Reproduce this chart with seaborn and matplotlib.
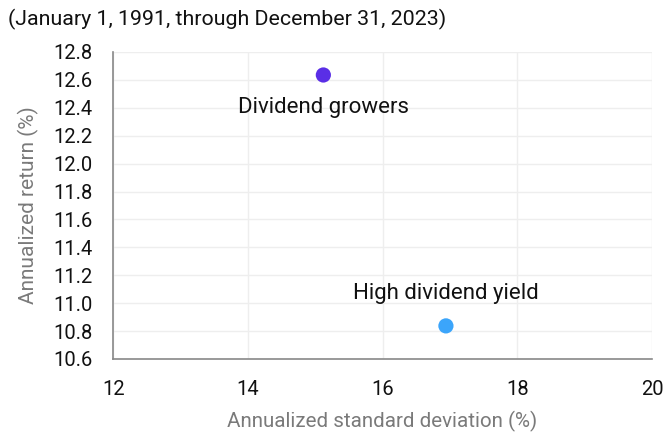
import numpy as np
import pandas as pd
import seaborn as sns
import matplotlib.pyplot as plt

# data
names = ["Dividend growers", "High dividend yield"]
std_dev = [15.12, 16.94]
ann_return = [12.635, 10.837]
point_colors = ["#5a2ee6", "#3ba5fb"]
label_offsets = [(0, -33), (0, 32)]

x_ticks = [12, 14, 16, 18, 20]
y_ticks = [10.6, 10.8, 11.0, 11.2, 11.4, 11.6, 11.8, 12.0, 12.2, 12.4, 12.6, 12.8]

sns.set_style("white")
plt.rcParams['font.family'] = ['Roboto', 'DejaVu Sans']

df = pd.DataFrame({"name": names, "std": std_dev, "ret": ann_return})

fig = plt.figure(figsize=(6.66, 4.33), dpi=100)
ax = fig.add_axes([0.170, 0.171, 0.809, 0.709])

sns.scatterplot(data=df, x="std", y="ret", hue="name", palette=point_colors,
                s=120, edgecolor="none", legend=False, ax=ax, zorder=3)

for i in range(len(names)):
    ax.annotate(names[i], (std_dev[i], ann_return[i]),
                xytext=label_offsets[i], textcoords="offset pixels",
                ha="center", va="center", fontsize=16, color="#111111")

ax.set_xlim(12, 20)
ax.set_ylim(10.6, 12.8)
ax.set_xticks(x_ticks)
ax.set_yticks(y_ticks)
ax.set_yticklabels([f"{v:.1f}" for v in y_ticks])
ax.grid(True, color="#eeeeee", linewidth=1)
ax.set_axisbelow(True)
for side in ["top", "right"]:
    ax.spines[side].set_visible(False)
for side in ["left", "bottom"]:
    ax.spines[side].set_color("#888888")
    ax.spines[side].set_linewidth(1.2)
ax.tick_params(axis="both", direction="out", length=6, width=1.2,
               color="#888888", labelsize=14.5, labelcolor="#111111")
ax.tick_params(axis="y", pad=9)
ax.tick_params(axis="x", pad=9)

ax.set_xlabel("Annualized standard deviation (%)", fontsize=14.8,
              color="#7a7a7a", labelpad=9)
ax.set_ylabel("Annualized return (%)", fontsize=15, color="#7a7a7a",
              labelpad=10)

fig.text(0.012, 0.955, "(January 1, 1991, through December 31, 2023)",
         fontsize=15.4, color="#111111", ha="left", va="center")

plt.savefig("out.png", dpi=100)
